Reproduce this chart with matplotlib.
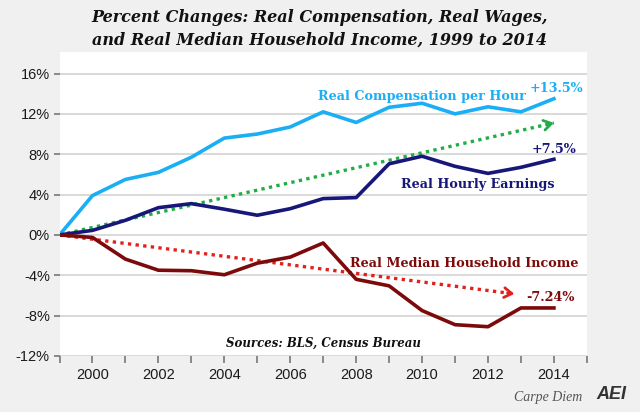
import matplotlib.pyplot as plt
from matplotlib.ticker import FuncFormatter, MultipleLocator

years = list(range(1999, 2015))

# percent change since 1999
compensation = [0.0, 3.9, 5.5, 6.2, 7.7, 9.6, 10.0, 10.7, 12.2, 11.15, 12.65, 13.05, 12.0, 12.7, 12.2, 13.5]
earnings = [0.0, 0.45, 1.45, 2.7, 3.1, 2.55, 1.95, 2.6, 3.6, 3.7, 7.05, 7.8, 6.8, 6.1, 6.7, 7.5]
income = [0.0, -0.25, -2.4, -3.5, -3.55, -3.95, -2.8, -2.2, -0.8, -4.4, -5.05, -7.5, -8.9, -9.1, -7.24, -7.24]

# dotted trend arrows (start, end)
trend_up_x = [1999, 2014.0]
trend_up_y = [0.0, 11.1]
trend_down_x = [1999, 2012.8]
trend_down_y = [0.0, -5.85]

yticks = [-12, -8, -4, 0, 4, 8, 12, 16]

LIGHT_BLUE = '#1aaef5'
NAVY = '#17177a'
MAROON = '#7d0a0a'
GREEN = '#1fae45'
RED = '#e3211c'
BG = '#f0f0f0'

fig = plt.figure(figsize=(6.4, 4.12), dpi=100, facecolor=BG)
ax = fig.add_axes([0.093, 0.136, 0.824, 0.737])
ax.set_facecolor('white')

ax.plot(years, compensation, color=LIGHT_BLUE, lw=2.6, solid_joinstyle='round', zorder=3)
ax.plot(years, earnings, color=NAVY, lw=2.6, solid_joinstyle='round', zorder=3)
ax.plot(years, income, color=MAROON, lw=2.6, solid_joinstyle='round', zorder=3)


def dotted_arrow(xs, ys, color):
    ax.plot(xs, ys, color=color, lw=2.4, linestyle=(0, (1, 1.3)), zorder=2)
    # short solid stub just for the open arrow head
    f = 0.985
    tail = (xs[0] + f * (xs[1] - xs[0]), ys[0] + f * (ys[1] - ys[0]))
    ax.annotate('', xy=(xs[1], ys[1]), xytext=tail,
                arrowprops=dict(arrowstyle='->,head_length=0.55,head_width=0.35',
                                color=color, lw=2.0, shrinkA=0, shrinkB=0),
                zorder=2)


dotted_arrow(trend_up_x, trend_up_y, GREEN)
dotted_arrow(trend_down_x, trend_down_y, RED)

ax.set_xlim(1999, 2015)
ax.set_ylim(-12, 18.1)
ax.set_yticks(yticks)
ax.yaxis.set_major_formatter(FuncFormatter(lambda v, _: '%d%%' % v))
ax.xaxis.set_major_locator(MultipleLocator(1))
ax.xaxis.set_major_formatter(FuncFormatter(lambda v, _: '%d' % v if int(v) % 2 == 0 and v < 2015 else ''))
ax.grid(axis='y', color='#d9d9d9', lw=1.4)
ax.set_axisbelow(True)
for s in ax.spines.values():
    s.set_visible(False)
ax.tick_params(axis='both', colors='#777777', labelcolor='#1a1a1a', labelsize=10.5, width=1.2)
ax.tick_params(axis='y', length=4, pad=3)
ax.tick_params(axis='x', length=5, pad=4)
for lab in ax.get_xticklabels() + ax.get_yticklabels():
    lab.set_family('Liberation Sans')

serif = 'DejaVu Serif'
ax.text(2010.0, 13.7, 'Real Compensation per Hour', color=LIGHT_BLUE, family=serif,
        weight='bold', size=9.2, ha='center', va='center')
ax.text(2014.07, 14.5, '+13.5%', color=LIGHT_BLUE, family=serif, weight='bold', size=9.2,
        ha='center', va='center')
ax.text(2014.0, 8.45, '+7.5%', color=NAVY, family=serif, weight='bold', size=9.2,
        ha='center', va='center')
ax.text(2011.68, 5.0, 'Real Hourly Earnings', color=NAVY, family=serif, weight='bold', size=9.2,
        ha='center', va='center')
ax.text(2011.28, -2.8, 'Real Median Household Income', color=MAROON, family=serif, weight='bold',
        size=9.2, ha='center', va='center')
ax.text(2013.88, -6.2, '-7.24%', color=MAROON, family=serif, weight='bold', size=9.2,
        ha='center', va='center')
ax.text(0.5, 0.02, 'Sources: BLS, Census Bureau', transform=ax.transAxes, color='#111111',
        family=serif, weight='bold', style='italic', size=8.5, ha='center', va='bottom')

fig.text(0.5, 0.958, 'Percent Changes: Real Compensation, Real Wages,', family=serif,
         weight='bold', style='italic', size=11.5, ha='center', va='center', color='#111111')
fig.text(0.5, 0.903, 'and Real Median Household Income, 1999 to 2014', family=serif,
         weight='bold', style='italic', size=11.5, ha='center', va='center', color='#111111')

fig.text(0.91, 0.034, 'Carpe Diem', family='Liberation Serif', style='italic', size=10,
         color='#555555', ha='right', va='center')
fig.text(0.955, 0.043, 'AEI', family='Liberation Sans', weight='bold', style='italic', size=13,
         color='#333333', ha='center', va='center')

fig.savefig('out.png', dpi=100, facecolor=BG)
